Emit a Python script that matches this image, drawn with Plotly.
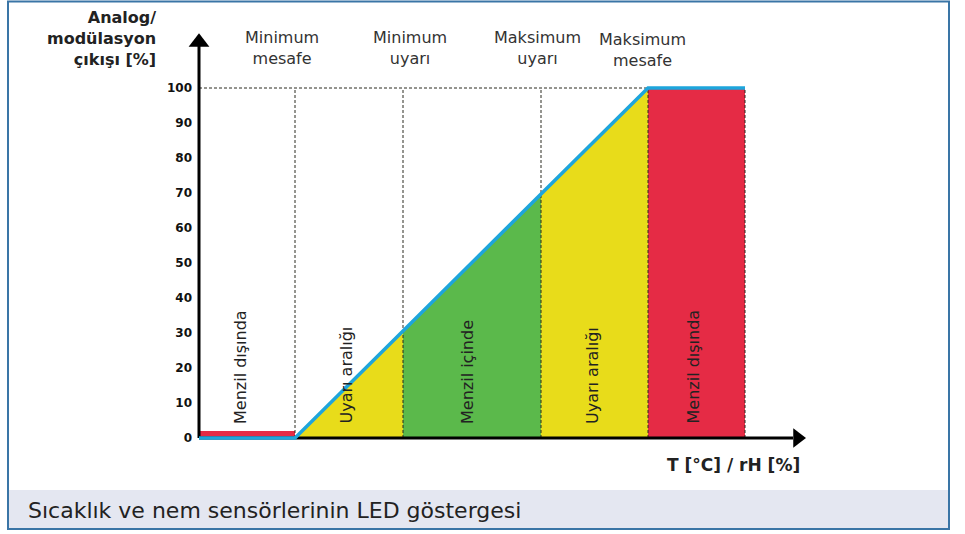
import plotly.graph_objects as go

# region boundaries along the x axis and analog output at each boundary
edges = [0, 96, 204, 342, 449, 546]
output = [0, 0, 30.6, 69.7, 100, 100]
low_bar = 2  # small red bar in first zone

zones = ["Menzil dışında", "Uyarı aralığı", "Menzil içinde", "Uyarı aralığı", "Menzil dışında"]
zone_colors = ["#e52b45", "#e8dc1a", "#5bb94b", "#e8dc1a", "#e52b45"]
limits = ["Minimum<br>mesafe", "Minimum<br>uyarı", "Maksimum<br>uyarı", "Maksimum<br>mesafe"]
y_ticks = [0, 10, 20, 30, 40, 50, 60, 70, 80, 90, 100]

W, H = 965, 534
L, R, T, B = 193, 146, 20, 86
plot_w = W - L - R
plot_h = H - T - B
X0 = -6
Y0 = -10 / 3.5


def px(xp):
    return (xp - L) / plot_w


def py(yp):
    return (H - B - yp) / plot_h


FONT = "DejaVu Sans"
fig = go.Figure()

# coloured zones
for i, color in enumerate(zone_colors):
    xa, xb = edges[i], edges[i + 1]
    if i == 0:
        ya, yb = low_bar, low_bar
    else:
        ya, yb = output[i], output[i + 1]
    fig.add_trace(go.Scatter(
        x=[xa, xb, xb, xa, xa], y=[0, 0, yb, ya, 0],
        mode="lines", fill="toself", fillcolor=color,
        line=dict(width=0), hoverinfo="skip"
    ))

# dashed guide lines
for xb in edges[1:]:
    fig.add_trace(go.Scatter(
        x=[xb, xb], y=[0, 100], mode="lines",
        line=dict(color="#2a2a20", width=1, dash="3px,2px"), hoverinfo="skip"
    ))
fig.add_trace(go.Scatter(
    x=[0, edges[4]], y=[100, 100], mode="lines",
    line=dict(color="#2a2a20", width=1, dash="3px,2px"), hoverinfo="skip"
))

# axes with arrows
fig.add_trace(go.Scatter(x=[0, 594], y=[0, 0], mode="lines",
                         line=dict(color="black", width=3), hoverinfo="skip"))
fig.add_trace(go.Scatter(x=[0, 0], y=[0, 112], mode="lines",
                         line=dict(color="black", width=3), hoverinfo="skip"))
fig.add_trace(go.Scatter(x=[598.5], y=[0], mode="markers", cliponaxis=False,
                         marker=dict(symbol="triangle-right", size=17, color="black"),
                         hoverinfo="skip"))
fig.add_trace(go.Scatter(x=[0], y=[113.1], mode="markers", cliponaxis=False,
                         marker=dict(symbol="triangle-up", size=18, color="black"),
                         hoverinfo="skip"))

# output curve
fig.add_trace(go.Scatter(
    x=edges, y=output, mode="lines",
    line=dict(color="#1ea5dc", width=3.5), hoverinfo="skip"
))

annotations = []
zone_shifts = [-7, -3, -5, -2, -4]
for i, name in enumerate(zones):
    annotations.append(dict(
        x=(edges[i] + edges[i + 1]) / 2, y=0, xref="x", yref="y",
        text=name, textangle=-90, showarrow=False,
        xanchor="center", yanchor="bottom", xshift=zone_shifts[i], yshift=12,
        font=dict(family=FONT, size=16, color="#222")
    ))

shifts = [-13, 7, -4, -6]
for i, name in enumerate(limits):
    annotations.append(dict(
        x=edges[i + 1], y=py(48 + (2 if i == 3 else 0)), xref="x", yref="paper",
        text=name, showarrow=False, xanchor="center", yanchor="middle",
        xshift=shifts[i], font=dict(family=FONT, size=16, color="#333")
    ))

annotations.append(dict(
    x=px(158), y=py(39), xref="paper", yref="paper",
    text="<b>Analog/<br>modülasyon<br>çıkışı [%]</b>", align="right",
    showarrow=False, xanchor="right", yanchor="middle",
    font=dict(family=FONT, size=16, color="#222")
))
annotations.append(dict(
    x=px(802), y=py(465), xref="paper", yref="paper",
    text="<b>T [°C] / rH [%]</b>", showarrow=False,
    xanchor="right", yanchor="middle",
    font=dict(family=FONT, size=17, color="#222")
))
annotations.append(dict(
    x=px(26), y=py(510), xref="paper", yref="paper",
    text="Sıcaklık ve nem sensörlerinin LED göstergesi", showarrow=False,
    xanchor="left", yanchor="middle",
    font=dict(family=FONT, size=22, color="#222")
))

shapes = [
    dict(type="rect", xref="paper", yref="paper",
         x0=px(9), x1=px(948), y0=py(528), y1=py(490),
         fillcolor="#e4e7f1", line=dict(width=0), layer="below"),
    dict(type="rect", xref="paper", yref="paper",
         x0=px(8), x1=px(949), y0=py(529), y1=py(1.5),
         line=dict(color="#3a75a6", width=2), fillcolor="rgba(0,0,0,0)"),
]

fig.update_layout(
    width=W, height=H,
    margin=dict(l=L, r=R, t=T, b=B),
    paper_bgcolor="white", plot_bgcolor="white",
    showlegend=False,
    xaxis=dict(range=[X0, X0 + plot_w], visible=False, fixedrange=True),
    yaxis=dict(range=[Y0, Y0 + plot_h / 3.5], tickvals=y_ticks,
               showgrid=False, zeroline=False, showline=False,
               ticks="", tickfont=dict(family=FONT, size=12, color="#111", weight="bold"),
               fixedrange=True),
    annotations=annotations,
    shapes=shapes,
)

# the page's default body margin would offset the figure by 8px
fig.write_html("out.html", config={"displayModeBar": False},
               post_script="document.body.style.margin='0';")
